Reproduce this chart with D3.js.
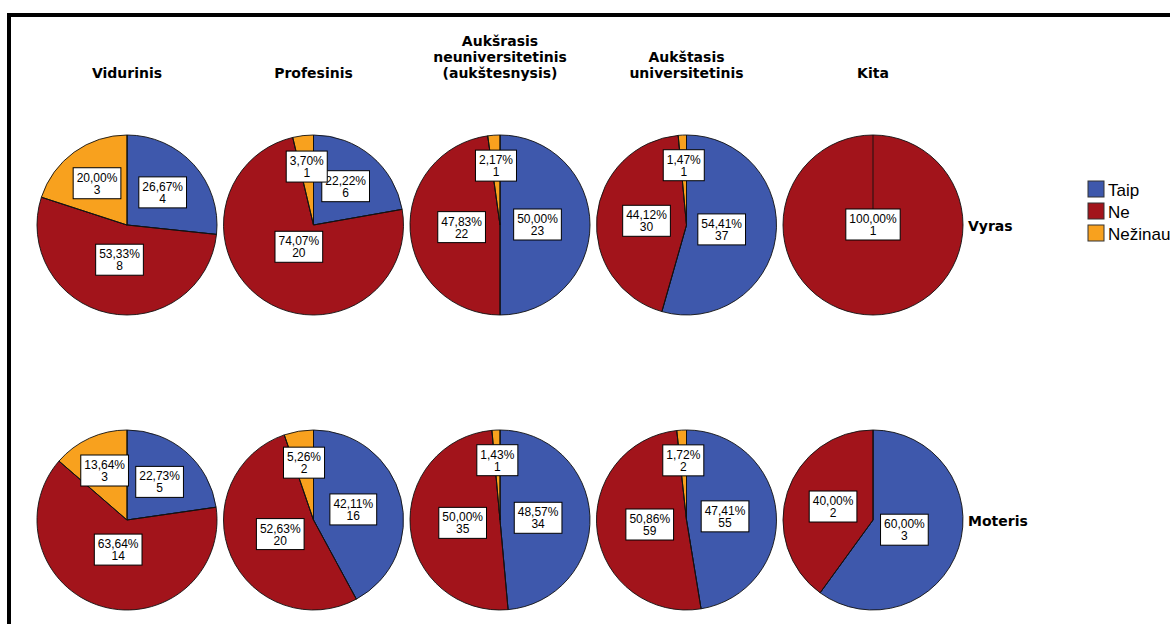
<!DOCTYPE html>
<html>
<head>
<meta charset="utf-8">
<script src="https://cdn.jsdelivr.net/npm/d3@7"></script>
<style>
  html, body { margin: 0; padding: 0; background: #fff; overflow: hidden; }
  svg { display: block; }
</style>
</head>
<body>
<svg id="chart" width="1170" height="624"></svg>
<script>
// Education level columns, gender rows, answer categories
const categories = ['Vidurinis', 'Profesinis', 'Aukšrasis neuniversitetinis (aukštesnysis)', 'Aukštasis universitetinis', 'Kita'];
const titleLines = [
  ['Vidurinis'],
  ['Profesinis'],
  ['Aukšrasis', 'neuniversitetinis', '(aukštesnysis)'],
  ['Aukštasis', 'universitetinis'],
  ['Kita']
];
const genders = ['Vyras', 'Moteris'];
const answers = ['Taip', 'Ne', 'Nežinau'];

// Counts per education level, in answer order (Taip, Ne, Nežinau)
const vyrasCounts = [[4, 8, 3], [6, 20, 1], [23, 22, 1], [37, 30, 1], [0, 1, 0]];
const moterisCounts = [[5, 14, 3], [16, 20, 2], [34, 35, 1], [55, 59, 2], [3, 2, 0]];
const countsByGender = { 'Vyras': vyrasCounts, 'Moteris': moterisCounts };

const answerColors = ['#3E58AC', '#A2141B', '#F8A11E'];

const svg = d3.select('#chart');
const radius = 90;

const x = d3.scalePoint().domain(categories).range([127, 873]);
const y = d3.scalePoint().domain(genders).range([225, 520]);
const color = d3.scaleOrdinal().domain(answers).range(answerColors);

// outer frame
svg.append('rect')
  .attr('x', 9).attr('y', 15)
  .attr('width', 1200).attr('height', 700)
  .attr('fill', 'none').attr('stroke', '#000').attr('stroke-width', 4);

// column titles, bottom-aligned
const titleBaseline = 78, titleLineH = 16;
categories.forEach((c, i) => {
  const lines = titleLines[i];
  const t = svg.append('text')
    .attr('text-anchor', 'middle')
    .attr('font-family', 'DejaVu Sans, Verdana, sans-serif')
    .attr('font-weight', 'bold')
    .attr('font-size', 14)
    .attr('fill', '#000');
  lines.forEach((ln, j) => {
    t.append('tspan')
      .attr('x', x(c))
      .attr('y', titleBaseline - (lines.length - 1 - j) * titleLineH)
      .text(ln);
  });
});

// row labels
genders.forEach(g => {
  svg.append('text')
    .attr('x', x(categories[categories.length - 1]) + radius + 5)
    .attr('y', y(g) + 6)
    .attr('font-family', 'DejaVu Sans, Verdana, sans-serif')
    .attr('font-weight', 'bold')
    .attr('font-size', 14)
    .attr('fill', '#000')
    .text(g);
});

const pie = d3.pie().sort(null).value(d => d.count);
const arc = d3.arc().innerRadius(0).outerRadius(radius);
const fmt = v => v.toFixed(2).replace('.', ',') + '%';

const pieLayer = svg.append('g');
const labelLayer = svg.append('g');

genders.forEach(g => {
  categories.forEach((c, ci) => {
    const counts = countsByGender[g][ci];
    const total = d3.sum(counts);
    const data = answers.map((a, i) => ({ answer: a, count: counts[i] }));
    const arcs = pie(data).filter(d => d.data.count > 0);

    const cell = pieLayer.append('g').attr('transform', `translate(${x(c)},${y(g)})`);
    cell.selectAll('path')
      .data(arcs)
      .join('path')
      .attr('d', arc)
      .attr('fill', d => color(d.data.answer))
      .attr('stroke', '#111')
      .attr('stroke-width', 0.9)
      .attr('stroke-linejoin', 'round');

    // radial edge at each slice start (also marks a single full slice)
    cell.selectAll('line')
      .data(arcs)
      .join('line')
      .attr('x1', 0).attr('y1', 0)
      .attr('x2', d => radius * Math.sin(d.startAngle))
      .attr('y2', d => -radius * Math.cos(d.startAngle))
      .attr('stroke', '#111')
      .attr('stroke-width', 0.9);

    // value labels: percentage over count, in a framed box
    const lcell = labelLayer.append('g').attr('transform', `translate(${x(c)},${y(g)})`);
    arcs.forEach(d => {
      const share = d.data.count / total;
      const mid = (d.startAngle + d.endAngle) / 2;
      const dist = share >= 1 ? 0 : radius * (2 / 3 - share / 2);
      const lx = dist * Math.sin(mid);
      const ly = -dist * Math.cos(mid);
      const lg = lcell.append('g').attr('transform', `translate(${lx},${ly})`);
      const box = lg.append('rect').attr('fill', '#fff').attr('stroke', '#000').attr('stroke-width', 1);
      const t = lg.append('text')
        .attr('text-anchor', 'middle')
        .attr('font-family', 'Liberation Sans, Arial, sans-serif')
        .attr('font-size', 12);
      const s1 = t.append('tspan').attr('x', 0).attr('y', -2).text(fmt(share * 100));
      const s2 = t.append('tspan').attr('x', 0).attr('y', 10).text(d.data.count);
      const w = Math.max(s1.node().getComputedTextLength(), s2.node().getComputedTextLength()) + 7;
      box.attr('x', -w / 2).attr('y', -16).attr('width', w).attr('height', 31);
    });
  });
});

// legend
const legend = svg.append('g').attr('transform', 'translate(1088,181)');
answers.forEach((a, i) => {
  const row = legend.append('g').attr('transform', `translate(0,${i * 22})`);
  row.append('rect')
    .attr('x', 0).attr('y', 0).attr('width', 16).attr('height', 16)
    .attr('fill', color(a)).attr('stroke', '#333').attr('stroke-width', 1);
  row.append('text')
    .attr('x', 20).attr('y', 15)
    .attr('font-family', 'Liberation Sans, Arial, sans-serif')
    .attr('font-size', 17)
    .attr('fill', '#000')
    .text(a);
});
</script>
</body>
</html>
